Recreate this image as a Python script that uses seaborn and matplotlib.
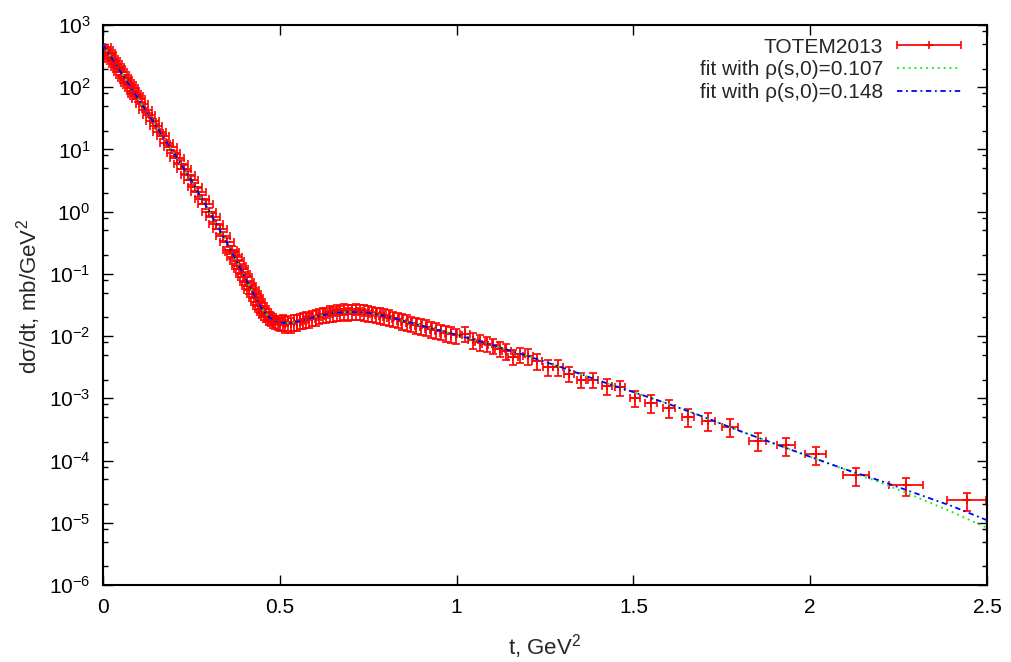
import numpy as np
import matplotlib
matplotlib.use('Agg')
import matplotlib.pyplot as plt
import seaborn as sns
from matplotlib.ticker import LogLocator, NullLocator, FixedLocator, NullFormatter
from matplotlib.container import ErrorbarContainer
from matplotlib.legend_handler import HandlerErrorbar

# TOTEM2013 points, in groups that share an error size
t_low = [0.005, 0.010, 0.015, 0.020, 0.025, 0.030, 0.035, 0.040, 0.045, 0.050,
         0.055, 0.060, 0.065, 0.070, 0.075, 0.080, 0.085, 0.090, 0.095, 0.100,
         0.110, 0.120, 0.130, 0.140, 0.150, 0.160, 0.170, 0.180, 0.190, 0.200]
y_low = [445, 392, 350, 325, 288, 265, 236, 213, 196, 174,
         160, 142, 131, 116, 108, 95.5, 88.0, 78.2, 72.0, 64.0,
         53.5, 43.0, 35.9, 28.8, 24.0, 19.3, 16.2, 12.9, 10.8, 8.65]

t_slope = [0.21, 0.22, 0.23, 0.24, 0.25, 0.26, 0.27, 0.28, 0.29, 0.30,
           0.31, 0.32, 0.33, 0.34, 0.35, 0.36]
y_slope = [7.25, 5.80, 4.85, 3.85, 3.20, 2.52, 2.08, 1.60, 1.31, 1.00,
           0.82, 0.63, 0.52, 0.40, 0.325, 0.245]

t_fall = [0.365, 0.372, 0.378, 0.384, 0.390, 0.396, 0.402, 0.408, 0.414, 0.420,
          0.426, 0.432, 0.438, 0.444, 0.450, 0.456, 0.462, 0.468, 0.474, 0.480,
          0.487, 0.494, 0.501]
y_fall = [0.225, 0.19, 0.16, 0.135, 0.118, 0.100, 0.088, 0.075, 0.063, 0.055,
          0.047, 0.041, 0.035, 0.031, 0.027, 0.024, 0.022, 0.020, 0.0188, 0.0178,
          0.0170, 0.0168, 0.0160]

t_dip = [0.508, 0.516, 0.524, 0.532, 0.540, 0.548, 0.556, 0.565, 0.574, 0.583,
         0.592, 0.601, 0.611, 0.621, 0.631, 0.641, 0.651, 0.661, 0.671, 0.682,
         0.693, 0.704, 0.715, 0.726, 0.737, 0.748, 0.760, 0.772, 0.784, 0.796,
         0.808, 0.820, 0.833, 0.846, 0.859, 0.872, 0.885, 0.899, 0.913, 0.927,
         0.941, 0.955, 0.969, 0.984, 0.999]
y_dip = [0.0170, 0.0158, 0.0165, 0.0155, 0.0170, 0.0168, 0.0178, 0.0182, 0.0190, 0.0186,
         0.0200, 0.0205, 0.0214, 0.0222, 0.0225, 0.0235, 0.0232, 0.0245, 0.0240, 0.0252,
         0.0246, 0.0250, 0.0255, 0.0248, 0.0243, 0.0238, 0.0233, 0.0224, 0.0218, 0.0210,
         0.0202, 0.0193, 0.0186, 0.0176, 0.0170, 0.0160, 0.0153, 0.0146, 0.0140, 0.0131,
         0.0125, 0.0120, 0.0113, 0.0109, 0.0103]

t_mid = [1.024, 1.047, 1.066, 1.085, 1.104, 1.123, 1.141, 1.160, 1.179, 1.203,
         1.228, 1.259, 1.287, 1.319, 1.353, 1.386, 1.424, 1.462, 1.505]
y_mid = [0.0110, 0.0087, 0.0081, 0.0076, 0.0071, 0.0063, 0.0058, 0.0047, 0.0051, 0.0048,
         0.0040, 0.0032, 0.0032, 0.0025, 0.0020, 0.0020, 0.0016, 0.0015, 0.00102]

t_tail = [1.550, 1.600, 1.654, 1.712, 1.773, 1.851, 1.931, 2.015, 2.130, 2.270, 2.443]
y_tail = [8.5e-4, 7.1e-4, 5.1e-4, 4.4e-4, 3.5e-4, 2.1e-4, 1.75e-4, 1.26e-4, 5.8e-5, 4.0e-5, 2.3e-5]
terr_tail = [0.016, 0.017, 0.018, 0.019, 0.022, 0.025, 0.026, 0.030, 0.036, 0.048, 0.055]

# half bin width in t and relative error on dsigma/dt for each group
terr_groups = [0.018, 0.02, 0.02, 0.016, 0.014]
rel_groups = [0.08, 0.16, 0.24, 0.28, 0.28]
rel_tail = 0.32

# the two fits
fit_t = [0, 0.05, 0.1, 0.15, 0.2, 0.25, 0.3, 0.35, 0.4, 0.43, 0.45, 0.47, 0.49,
         0.51, 0.53, 0.56, 0.6, 0.65, 0.7, 0.75, 0.8, 0.85, 0.9, 0.95, 1.0,
         1.1, 1.2, 1.3, 1.4, 1.5, 1.6, 1.7, 1.8, 1.9, 2.0, 2.1, 2.2, 2.3, 2.4, 2.5]
fit_107 = [480, 176, 64.7, 23.8, 8.77, 3.16, 1.02, 0.32, 0.091, 0.043, 0.027, 0.020, 0.0172,
           0.0164, 0.0163, 0.0176, 0.0204, 0.0235, 0.0245, 0.0237, 0.0209, 0.0176, 0.0148, 0.0124, 0.0105,
           0.0072, 0.0048, 0.0031, 0.00195, 0.00126, 8.1e-4, 5.0e-4, 3.0e-4, 1.86e-4, 1.15e-4,
           7.1e-5, 4.4e-5, 2.6e-5, 1.5e-5, 8.3e-6]
fit_148 = [480, 176, 64.7, 23.8, 8.77, 3.16, 1.02, 0.32, 0.091, 0.043, 0.027, 0.020, 0.0172,
           0.0164, 0.0163, 0.0176, 0.0204, 0.0235, 0.0245, 0.0237, 0.0209, 0.0176, 0.0148, 0.0124, 0.0105,
           0.0072, 0.0048, 0.0031, 0.00195, 0.00126, 8.1e-4, 5.0e-4, 3.0e-4, 1.86e-4, 1.15e-4,
           7.2e-5, 4.7e-5, 2.95e-5, 1.86e-5, 1.1e-5]

# put the groups together
groups_t = [t_low, t_slope, t_fall, t_dip, t_mid]
groups_y = [y_low, y_slope, y_fall, y_dip, y_mid]
t_all, y_all, terr_all, rel_all = [], [], [], []
for tt, yy, te, re in zip(groups_t, groups_y, terr_groups, rel_groups):
    t_all += tt
    y_all += yy
    terr_all += [te] * len(tt)
    rel_all += [re] * len(tt)
t_all += t_tail
y_all += y_tail
terr_all += terr_tail
rel_all += [rel_tail] * len(t_tail)
t_all = np.array(t_all)
y_all = np.array(y_all)
yerr_all = y_all * np.array(rel_all)

sns.set_style('ticks')
plt.rcParams['font.family'] = ['Liberation Sans', 'DejaVu Sans']
plt.rcParams['mathtext.fontset'] = 'custom'
plt.rcParams['mathtext.rm'] = 'Liberation Sans'
plt.rcParams['mathtext.it'] = 'Liberation Sans:italic'
plt.rcParams['mathtext.default'] = 'regular'

FS = 15

fig = plt.figure(figsize=(10.11, 6.62), dpi=100)
ax = fig.add_axes([0.1019, 0.1163, 0.8744, 0.8459])

eb = ax.errorbar(t_all, y_all, xerr=terr_all, yerr=yerr_all, fmt='+', color='red',
                 ms=6, mew=1.2, elinewidth=1.25, capsize=2.6, capthick=1.25, zorder=2,
                 label='TOTEM2013')
sns.lineplot(x=fit_t, y=fit_107, ax=ax, color='#22ee22', lw=1.4,
             linestyle=(0, (1, 2)), zorder=3, label='fit with ρ(s,0)=0.107')
sns.lineplot(x=fit_t, y=fit_148, ax=ax, color='#0000ff', lw=1.3,
             linestyle=(0, (3, 2, 1, 2)), zorder=4, label='fit with ρ(s,0)=0.148')

ax.set_yscale('log')
ax.set_xlim(0, 2.5)
ax.set_ylim(1e-6, 1e3)
ax.xaxis.set_major_locator(FixedLocator([0, 0.5, 1, 1.5, 2, 2.5]))
ax.set_xticklabels(['0', '0.5', '1', '1.5', '2', '2.5'])
ax.xaxis.set_minor_locator(NullLocator())
ax.yaxis.set_major_locator(LogLocator(base=10, numticks=20))
ax.yaxis.set_minor_locator(LogLocator(base=10, subs=[2, 5, 8], numticks=20))
ax.yaxis.set_minor_formatter(NullFormatter())

ax.tick_params(which='both', direction='in', top=True, right=True, labelsize=FS, colors='black')
ax.tick_params(which='major', length=7, width=1.0, pad=9)
ax.tick_params(which='minor', length=3.5, width=1.0)
for s in ax.spines.values():
    s.set_linewidth(1.5)
    s.set_color('black')

ax.set_xlabel('t, GeV$^2$', fontsize=16, labelpad=11)
ax.set_ylabel('dσ/dt, mb/GeV$^2$', fontsize=16)
ax.yaxis.set_label_coords(-0.068, 0.515)

handles, labels = ax.get_legend_handles_labels()
order = [labels.index('TOTEM2013'), labels.index('fit with ρ(s,0)=0.107'),
         labels.index('fit with ρ(s,0)=0.148')]
leg = ax.legend([handles[i] for i in order], [labels[i] for i in order],
                loc='upper right', bbox_to_anchor=(0.9506, 0.943),
                bbox_transform=fig.transFigure, frameon=False, fontsize=FS,
                markerfirst=False, handlelength=3.08, handletextpad=0.67,
                labelspacing=0.17, borderpad=0, borderaxespad=0,
                handler_map={ErrorbarContainer: HandlerErrorbar(xerr_size=1.52, yerr_size=0.001)})

fig.savefig('out.png', dpi=100)
